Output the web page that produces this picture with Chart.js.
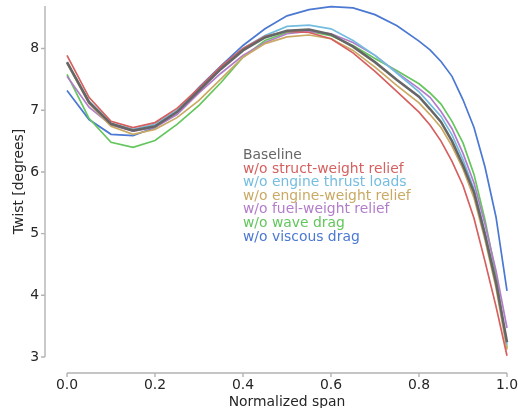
<!DOCTYPE html>
<html>
<head>
  <meta charset="utf-8">
  <title>Twist distribution</title>
  <script src="https://cdn.jsdelivr.net/npm/chart.js@4.4.0/dist/chart.umd.min.js"></script>
  <style>
    body { margin: 0; background: #fff; }
  </style>
</head>
<body>
  <canvas id="twistChart" width="518" height="408"></canvas>
  <script>
    // normalized span stations
    const span = [0, 0.05, 0.1, 0.15, 0.2, 0.25, 0.3, 0.35, 0.4, 0.45, 0.5, 0.55, 0.6, 0.65, 0.7, 0.75, 0.8, 0.825, 0.85, 0.875, 0.9, 0.925, 0.95, 0.975, 1.0];

    // twist [deg] for each case
    const baseline      = [7.78, 7.13, 6.78, 6.67, 6.74, 6.97, 7.32, 7.67, 7.97, 8.18, 8.29, 8.31, 8.23, 8.03, 7.78, 7.49, 7.22, 7.02, 6.81, 6.50, 6.11, 5.67, 4.98, 4.21, 3.24];
    const noStructWt    = [7.89, 7.21, 6.82, 6.72, 6.80, 7.03, 7.36, 7.71, 8.00, 8.20, 8.28, 8.26, 8.16, 7.93, 7.63, 7.30, 6.97, 6.76, 6.50, 6.17, 5.78, 5.25, 4.55, 3.82, 3.02];
    const noEngThrust   = [7.77, 7.15, 6.79, 6.69, 6.77, 7.00, 7.34, 7.70, 8.00, 8.21, 8.36, 8.38, 8.32, 8.13, 7.89, 7.60, 7.30, 7.10, 6.90, 6.60, 6.20, 5.72, 5.02, 4.22, 3.20];
    const noEngWt       = [7.76, 7.11, 6.74, 6.61, 6.69, 6.88, 7.16, 7.51, 7.86, 8.08, 8.19, 8.22, 8.16, 7.97, 7.70, 7.40, 7.12, 6.93, 6.72, 6.42, 6.05, 5.58, 4.90, 4.12, 3.12];
    const noFuelWt      = [7.55, 7.05, 6.76, 6.66, 6.72, 6.93, 7.28, 7.60, 7.89, 8.10, 8.24, 8.28, 8.24, 8.10, 7.89, 7.61, 7.35, 7.21, 6.98, 6.70, 6.30, 5.82, 5.15, 4.40, 3.47];
    const noWaveDrag    = [7.58, 6.87, 6.48, 6.40, 6.51, 6.77, 7.08, 7.45, 7.86, 8.13, 8.26, 8.28, 8.21, 8.05, 7.84, 7.64, 7.43, 7.28, 7.10, 6.82, 6.47, 5.96, 5.22, 4.33, 3.15];
    const noViscousDrag = [7.32, 6.85, 6.61, 6.59, 6.72, 6.99, 7.37, 7.72, 8.05, 8.32, 8.53, 8.63, 8.68, 8.66, 8.55, 8.37, 8.12, 7.98, 7.79, 7.55, 7.17, 6.72, 6.08, 5.27, 4.07];

    const labels = ['Baseline', 'w/o struct-weight relief', 'w/o engine thrust loads', 'w/o engine-weight relief',
                    'w/o fuel-weight relief', 'w/o wave drag', 'w/o viscous drag'];
    const colors = ['#666666', '#d65f5f', '#74bde0', '#c9a963', '#b27ccb', '#64c65d', '#4a78d2'];

    const xTicks = [0, 0.2, 0.4, 0.6, 0.8, 1.0];
    const yTicks = [3, 4, 5, 6, 7, 8];

    const FONT = 'DejaVu Sans';
    const TXT = '#262626';

    function toPoints(vals) {
      return span.map((x, i) => ({ x: x, y: vals[i] }));
    }

    const series = [baseline, noStructWt, noEngThrust, noEngWt, noFuelWt, noWaveDrag, noViscousDrag];
    const datasets = series.map((vals, i) => ({
      label: labels[i],
      data: toPoints(vals),
      borderColor: colors[i],
      backgroundColor: colors[i],
      borderWidth: i == 0 ? 2.6 : 1.7,
      pointRadius: 0,
      tension: 0,
      clip: false,
      order: i == 0 ? 0 : 1
    }));

    // offset spines like the seaborn look
    const spinePlugin = {
      id: 'spines',
      afterDraw(chart) {
        const { ctx, chartArea, scales } = chart;
        const yLineX = chartArea.left - 22;
        const xLineY = chartArea.bottom + 16;
        ctx.save();
        ctx.strokeStyle = '#b3b3b3';
        ctx.lineWidth = 1.4;
        ctx.beginPath();
        ctx.moveTo(yLineX, chartArea.top);
        ctx.lineTo(yLineX, chartArea.bottom);
        ctx.moveTo(chartArea.left, xLineY);
        ctx.lineTo(chartArea.right, xLineY);
        scales.y.ticks.forEach(t => {
          const py = scales.y.getPixelForValue(t.value);
          ctx.moveTo(yLineX - 4, py);
          ctx.lineTo(yLineX, py);
        });
        scales.x.ticks.forEach(t => {
          const px = scales.x.getPixelForValue(t.value);
          ctx.moveTo(px, xLineY);
          ctx.lineTo(px, xLineY + 4);
        });
        ctx.stroke();
        ctx.restore();
      }
    };

    // coloured text legend inside the plot
    const textLegend = {
      id: 'textLegend',
      afterDatasetsDraw(chart) {
        const { ctx, scales } = chart;
        const x0 = scales.x.getPixelForValue(0.4);
        const y0 = scales.y.getPixelForValue(6.21);
        ctx.save();
        ctx.font = '13.9px "' + FONT + '"';
        ctx.textAlign = 'left';
        ctx.textBaseline = 'alphabetic';
        labels.forEach((txt, i) => {
          ctx.fillStyle = colors[i];
          ctx.fillText(txt, x0, y0 + i * 13.6);
        });
        ctx.restore();
      }
    };

    const ctx = document.getElementById('twistChart').getContext('2d');
    const twistChart = new Chart(ctx, {
      type: 'line',
      data: { datasets: datasets },
      options: {
        responsive: false,
        animation: false,
        devicePixelRatio: 1,
        layout: { padding: { top: 6, right: 11, left: 0, bottom: 0 } },
        plugins: { legend: { display: false }, tooltip: { enabled: false } },
        scales: {
          x: {
            type: 'linear',
            min: 0,
            max: 1,
            afterBuildTicks: s => { s.ticks = xTicks.map(v => ({ value: v })); },
            afterFit: s => {
              s.height = 51;
              s.paddingLeft = 0;
              s.paddingRight = 0;
            },
            grid: { display: false, drawTicks: false },
            border: { display: false },
            ticks: {
              padding: 20,
              color: TXT,
              font: { family: FONT, size: 13.9 },
              callback: v => Number(v).toFixed(1)
            },
            title: {
              display: true,
              text: 'Normalized span',
              color: TXT,
              font: { family: FONT, size: 13.9 },
              padding: { top: 0, bottom: -3 }
            }
          },
          y: {
            type: 'linear',
            min: 3.0,
            max: 8.69,
            afterBuildTicks: s => { s.ticks = yTicks.map(v => ({ value: v })); },
            afterFit: s => {
              s.width = 67;
              s.paddingTop = 0;
              s.paddingBottom = 0;
            },
            grid: { display: false, drawTicks: false },
            border: { display: false },
            ticks: {
              padding: 28,
              color: TXT,
              font: { family: FONT, size: 13.9 },
              callback: v => String(v)
            },
            title: {
              display: true,
              text: 'Twist [degrees]',
              color: TXT,
              font: { family: FONT, size: 13.9 },
              padding: { top: 11.5, bottom: 0 }
            }
          }
        }
      },
      plugins: [spinePlugin, textLegend]
    });
  </script>
</body>
</html>
